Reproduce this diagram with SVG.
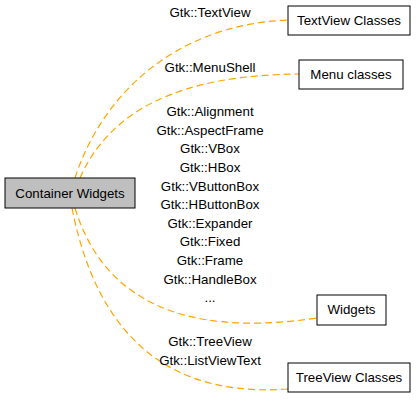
<svg xmlns="http://www.w3.org/2000/svg" width="419" height="401" viewBox="0 0 419 401">
<style>
.n rect{fill:#fff;stroke:#000;stroke-width:1}
.t{font-family:"Liberation Sans",Arial,sans-serif;font-size:13.3px;fill:#000;text-anchor:middle}
.e path{fill:none;stroke:#ffa500;stroke-width:1.2;stroke-dasharray:7,4}
</style>
<rect width="419" height="401" fill="#fff"/>
<g class="e" id="connectors">
<path d="M75,178 C100,100 170,25 288,20"/>
<path d="M80,178 C110,110 180,75 299,74"/>
<path d="M75,208 C100,290 170,340 317,318"/>
<path d="M72,208 C90,300 140,400 288,389"/>
</g>
<g id="edge-labels">
<text class="t" x="210" y="17">Gtk::TextView</text>
<text class="t" x="210" y="72">Gtk::MenuShell</text>
<text class="t" x="210" y="116">Gtk::Alignment</text>
<text class="t" x="210" y="135">Gtk::AspectFrame</text>
<text class="t" x="210" y="153">Gtk::VBox</text>
<text class="t" x="210" y="172">Gtk::HBox</text>
<text class="t" x="210" y="191">Gtk::VButtonBox</text>
<text class="t" x="210" y="209">Gtk::HButtonBox</text>
<text class="t" x="210" y="228">Gtk::Expander</text>
<text class="t" x="210" y="246">Gtk::Fixed</text>
<text class="t" x="210" y="265">Gtk::Frame</text>
<text class="t" x="210" y="284">Gtk::HandleBox</text>
<text class="t" x="210" y="302">...</text>
<text class="t" x="210" y="346">Gtk::TreeView</text>
<text class="t" x="210" y="365">Gtk::ListViewText</text>
</g>
<g class="n" id="container-widgets">
<rect x="5" y="178" width="130" height="30" style="fill:#bfbfbf"/>
<text class="t" x="70" y="197.5">Container Widgets</text>
</g>
<g class="n" id="textview-classes">
<rect x="288" y="6" width="122" height="29"/>
<text class="t" x="349" y="25">TextView Classes</text>
</g>
<g class="n" id="menu-classes">
<rect x="299" y="60" width="104" height="29"/>
<text class="t" x="351" y="79">Menu classes</text>
</g>
<g class="n" id="widgets">
<rect x="317" y="295" width="69" height="30"/>
<text class="t" x="351.5" y="314">Widgets</text>
</g>
<g class="n" id="treeview-classes">
<rect x="288" y="363" width="122" height="29"/>
<text class="t" x="349" y="382">TreeView Classes</text>
</g>
</svg>
